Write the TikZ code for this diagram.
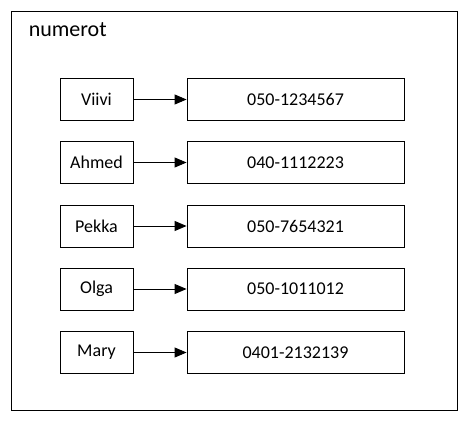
\documentclass[tikz,border=0pt]{standalone}
\usepackage{fontspec}
\setmainfont{Carlito}
\usetikzlibrary{arrows.meta,
                positioning
            }

\begin{document}
\begin{tikzpicture}[x=1pt, y=-1pt, line width=0.9pt,
        namebox/.style={draw, minimum width=73pt, minimum height=42pt, font=\fontsize{18}{20}\selectfont},
        numbox/.style={draw, minimum width=217pt, minimum height=42pt, font=\fontsize{18}{20}\selectfont},
        link/.style={-{Triangle[length=12pt, width=10pt]}}
    ]
            \useasboundingbox (0, 0) rectangle (471, 425);
            \node[draw, minimum width=446pt, minimum height=399pt] (frame) at (234, 210.5) {};
            \node[anchor=west, font=\fontsize{22}{24}\selectfont] (title) at (25, 30) {numerot};

            \node[namebox] (viivi) at (96.5, 99.5) {Viivi};
            \node[namebox] (ahmed) at (96.5, 162.5) {Ahmed};
            \node[namebox] (pekka) at (96.5, 226) {Pekka};
            \node[namebox] (olga) at (96.5, 289) {Olga};
            \node[namebox] (mary) at (96.5, 352.5) {Mary};

            \node[numbox] (nviivi) at (295.5, 99.5) {050-1234567};
            \node[numbox] (nahmed) at (295.5, 162.5) {040-1112223};
            \node[numbox] (npekka) at (295.5, 226) {050-7654321};
            \node[numbox] (nolga) at (295.5, 289) {050-1011012};
            \node[numbox] (nmary) at (295.5, 352.5) {0401-2132139};

            \draw[link] (viivi) -- (nviivi);
            \draw[link] (ahmed) -- (nahmed);
            \draw[link] (pekka) -- (npekka);
            \draw[link] (olga) -- (nolga);
            \draw[link] (mary) -- (nmary);
        \end{tikzpicture}
\end{document}
